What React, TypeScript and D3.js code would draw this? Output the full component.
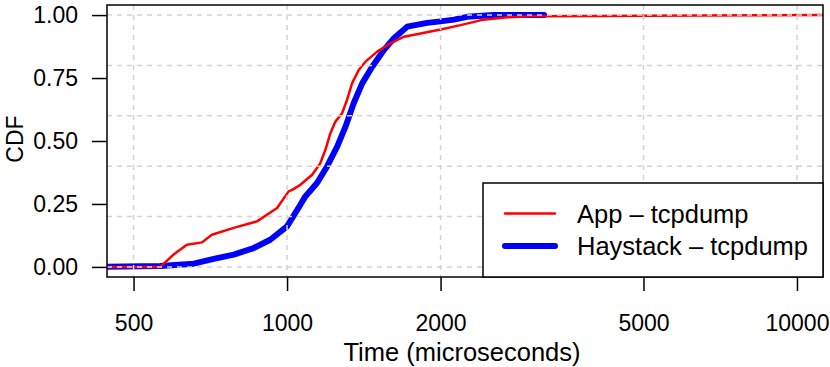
import * as d3 from 'd3';
import { useEffect, useRef } from 'react';

// x tick values and y tick labels
const xTicks = [500, 1000, 2000, 5000, 10000];
const yTicks = [0, 0.25, 0.5, 0.75, 1];
const gridY = [0, 0.2, 0.4, 0.6, 0.8, 1];

// App - tcpdump (time in microseconds, cdf)
const appTime = [430, 564, 599, 636, 681, 712, 786, 873, 956, 1007, 1023, 1062, 1120, 1162, 1189, 1216, 1244, 1282, 1311, 1341, 1382, 1425, 1502, 1596, 1695, 1827, 2000, 2188, 2360, 2398, 2704, 3050, 4120, 5000, 6500, 8500, 11500];
const appCdf = [0, 0.0, 0.049, 0.088, 0.0975, 0.128, 0.155, 0.181, 0.234, 0.30, 0.306, 0.326, 0.366, 0.412, 0.465, 0.531, 0.577, 0.61, 0.663, 0.729, 0.782, 0.815, 0.855, 0.888, 0.914, 0.927, 0.943, 0.96, 0.976, 0.98, 0.991, 0.995, 0.996, 0.997, 0.998, 0.999, 1.0];

// Haystack - tcpdump
const hayTime = [430, 564, 656, 718, 786, 860, 927, 1000, 1062, 1086, 1145, 1198, 1254, 1302, 1351, 1404, 1469, 1548, 1620, 1720, 1883, 2000, 2124, 2256, 2546, 3192];
const hayCdf = [0, 0.004, 0.013, 0.032, 0.049, 0.075, 0.108, 0.161, 0.247, 0.28, 0.333, 0.399, 0.478, 0.557, 0.65, 0.729, 0.795, 0.861, 0.908, 0.954, 0.969, 0.975, 0.982, 0.993, 1.0, 1.0];

const W = 830;
const H = 367;
const left = 107, right = 823, top = 5, bottom = 277;
const FONT = 'Liberation Sans, Arial, Helvetica, sans-serif';

const App = () => {
  const svgRef = useRef<SVGSVGElement>(null);

  useEffect(() => {
    const svg = d3.select(svgRef.current);
    svg.selectAll('*').remove();

    const x = d3.scaleLog().domain([443.5, 11247]).range([left, right]);
    const y = d3.scaleLinear().domain([-0.04, 1.04]).range([bottom, top]);

    svg.append('defs').append('clipPath').attr('id', 'plotclip')
      .append('rect').attr('x', left).attr('y', top)
      .attr('width', right - left).attr('height', bottom - top);

    const plot = svg.append('g').attr('clip-path', 'url(#plotclip)');

    const line = d3.line<[number, number]>()
      .x(d => x(d[0]))
      .y(d => y(d[1]));

    // curves
    plot.append('path')
      .datum(hayTime.map((t, i) => [t, hayCdf[i]] as [number, number]))
      .attr('d', line)
      .attr('fill', 'none')
      .attr('stroke', '#0000ff')
      .attr('stroke-width', 6)
      .attr('stroke-linejoin', 'round')
      .attr('stroke-linecap', 'round');

    plot.append('path')
      .datum(appTime.map((t, i) => [t, appCdf[i]] as [number, number]))
      .attr('d', line)
      .attr('fill', 'none')
      .attr('stroke', '#ff0000')
      .attr('stroke-width', 2.5)
      .attr('stroke-linejoin', 'round');

    // grid on top of the curves
    plot.selectAll('line.gx').data(xTicks).enter().append('line')
      .attr('x1', d => x(d)).attr('x2', d => x(d))
      .attr('y1', top).attr('y2', bottom)
      .attr('stroke', '#d3d3d3').attr('stroke-width', 1.5)
      .attr('stroke-dasharray', '5,5');
    plot.selectAll('line.gy').data(gridY).enter().append('line')
      .attr('x1', left).attr('x2', right)
      .attr('y1', d => y(d)).attr('y2', d => y(d))
      .attr('stroke', '#d3d3d3').attr('stroke-width', 1.5)
      .attr('stroke-dasharray', '5,5');

    // box
    svg.append('rect')
      .attr('x', left).attr('y', top)
      .attr('width', right - left).attr('height', bottom - top)
      .attr('fill', 'none').attr('stroke', '#000').attr('stroke-width', 1.5);

    // x axis
    const xAxis = d3.axisBottom(x).tickValues(xTicks)
      .tickFormat(d => String(d)).tickSize(14).tickPadding(24);
    const gx = svg.append('g').attr('transform', `translate(0,${bottom})`).call(xAxis);
    gx.select('.domain').remove();
    gx.selectAll('line').attr('stroke', '#000').attr('stroke-width', 1.5);
    gx.selectAll('text').attr('font-size', 23).attr('font-family', FONT).attr('fill', '#000');

    // y axis
    const yAxis = d3.axisLeft(y).tickValues(yTicks)
      .tickFormat(d => d3.format('.2f')(d as number)).tickSize(15).tickPadding(14);
    const gy = svg.append('g').attr('transform', `translate(${left},0)`).call(yAxis);
    gy.select('.domain').remove();
    gy.selectAll('line').attr('stroke', '#000').attr('stroke-width', 1.5);
    gy.selectAll('text').attr('font-size', 23).attr('font-family', FONT).attr('fill', '#000');

    // axis titles
    svg.append('text')
      .attr('x', 462).attr('y', 361)
      .attr('text-anchor', 'middle')
      .attr('font-size', 25.5).attr('font-family', FONT)
      .text('Time (microseconds)');
    svg.append('text')
      .attr('transform', 'translate(23,139) rotate(-90)')
      .attr('text-anchor', 'middle')
      .attr('font-size', 23).attr('font-family', FONT)
      .text('CDF');

    // legend
    const lg = svg.append('g');
    lg.append('rect')
      .attr('x', 483).attr('y', 183)
      .attr('width', right - 483).attr('height', bottom - 183)
      .attr('fill', '#fff').attr('stroke', '#000').attr('stroke-width', 1.5);
    const items = [
      { label: 'App \u2013 tcpdump', color: '#ff0000', width: 2.5, ly: 213.5 },
      { label: 'Haystack \u2013 tcpdump', color: '#0000ff', width: 6, ly: 246 },
    ];
    items.forEach(it => {
      lg.append('line')
        .attr('x1', 505).attr('x2', 555)
        .attr('y1', it.ly).attr('y2', it.ly)
        .attr('stroke', it.color).attr('stroke-width', it.width)
        .attr('stroke-linecap', 'round');
      lg.append('text')
        .attr('x', 577).attr('y', it.ly + 9)
        .attr('font-size', 25.5).attr('font-family', FONT)
        .text(it.label);
    });
  }, []);

  return (
    <svg ref={svgRef} width={W} height={H} style={{ position: 'absolute', left: 0, top: 0 }}></svg>
  );
};

export default App;
